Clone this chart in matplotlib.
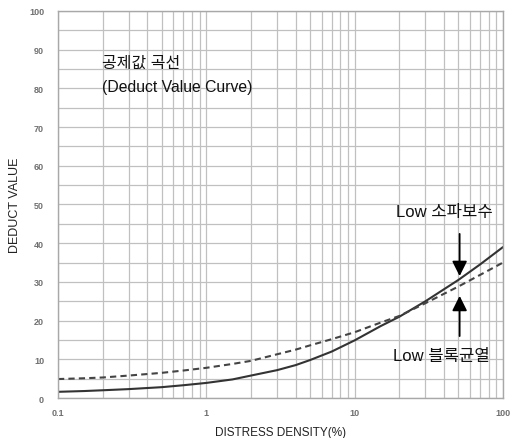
import matplotlib
matplotlib.use("Agg")
import matplotlib.pyplot as plt
from matplotlib.ticker import LogLocator, FixedLocator, NullFormatter

plt.rcParams['font.family'] = ['Liberation Sans', 'Noto Sans CJK KR', 'DejaVu Sans']

# Distress density (%) and deduct values for the two Low-severity curves
density = [0.1, 0.15, 0.2, 0.3, 0.5, 0.7, 1, 1.5, 2, 3, 4, 5, 7, 10, 15, 20, 30, 50, 70, 100]
patching_low = [1.6, 1.8, 2.0, 2.3, 2.8, 3.3, 3.9, 4.8, 5.8, 7.2, 8.5, 9.8, 12.0, 14.9, 18.6, 21.0, 25.0, 30.5, 34.5, 39.0]
block_crack_low = [4.9, 5.1, 5.3, 5.8, 6.5, 7.1, 7.8, 8.8, 9.6, 11.3, 12.5, 13.6, 15.2, 17.0, 19.5, 21.2, 24.5, 28.8, 31.8, 35.0]

x_ticks = [0.1, 1, 10, 100]
x_tick_labels = ["0.1", "1", "10", "100"]
y_ticks = [0, 10, 20, 30, 40, 50, 60, 70, 80, 90, 100]

fig = plt.figure(figsize=(5.15, 4.39), dpi=100)
ax = fig.add_axes([0.1126, 0.0911, 0.8641, 0.8816])

ax.set_xscale('log')
ax.set_xlim(0.1, 100)
ax.set_ylim(0, 100)

ax.set_xticks(x_ticks)
ax.set_xticklabels(x_tick_labels)
ax.xaxis.set_minor_locator(LogLocator(base=10, subs=range(2, 10)))
ax.xaxis.set_minor_formatter(NullFormatter())
ax.set_yticks(y_ticks)
ax.yaxis.set_minor_locator(FixedLocator(range(5, 100, 10)))

grid_col = '#c0c0c0'
ax.grid(which='both', axis='both', color=grid_col, linewidth=0.9)
ax.set_axisbelow(True)
for s in ax.spines.values():
    s.set_color('#a8a8a8')
    s.set_linewidth(1.0)

ax.tick_params(which='both', length=0)
ax.tick_params(axis='both', labelsize=6.5, labelcolor='#707070')
ax.tick_params(axis='x', pad=7)
ax.tick_params(axis='y', pad=10)
for lbl in ax.get_xticklabels() + ax.get_yticklabels():
    lbl.set_fontweight('bold')

ax.plot(density, patching_low, color='#333333', linewidth=1.5, solid_capstyle='round')
ax.plot(density, block_crack_low, color='#444444', linewidth=1.5, linestyle=(0, (3, 2)))

ax.set_xlabel('DISTRESS DENSITY(%)', fontsize=8.5, color='#222222', labelpad=7)
ax.set_ylabel('DEDUCT VALUE', fontsize=9, color='#222222', labelpad=6)

ax.text(0.198, 86.8, '공제값 곡선', fontsize=11.5, color='#111111', va='center', ha='left')
ax.text(0.198, 80.6, '(Deduct Value Curve)', fontsize=11.3, color='#111111', va='center', ha='left')

ax.text(40, 48.3, 'Low 소파보수', fontsize=12, color='#111111', va='center', ha='center')
ax.text(38.5, 10.9, 'Low 블록균열', fontsize=12, color='#111111', va='center', ha='center')

arrow = dict(arrowstyle='-|>,head_length=0.9,head_width=0.45', color='black', lw=1.3,
             shrinkA=0, shrinkB=0)
ax.annotate('', xy=(51, 31.5), xytext=(51, 42.4), arrowprops=arrow)
ax.annotate('', xy=(51, 26.4), xytext=(51, 16.0), arrowprops=arrow)

fig.savefig('out.png', dpi=100)
